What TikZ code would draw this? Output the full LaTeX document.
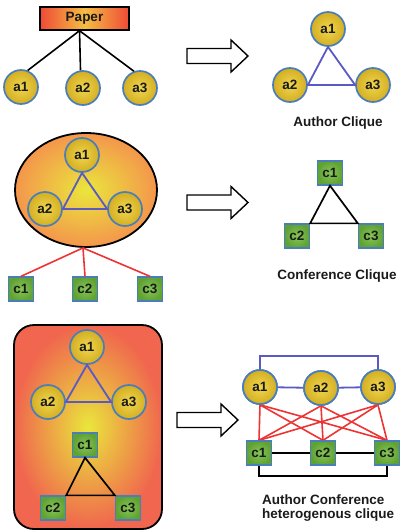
\documentclass[tikz,border=0pt]{standalone}
\usepackage{fontspec}
\setmainfont{Liberation Sans}
\usetikzlibrary{shapes.geometric}

\definecolor{nodeblue}{HTML}{4A7EBB}
\definecolor{cliqueblue}{HTML}{5A5AC4}
\definecolor{linkred}{HTML}{EE3333}
\definecolor{goldin}{HTML}{F0D64E}
\definecolor{goldout}{HTML}{D4AE22}
\definecolor{greenin}{HTML}{86C656}
\definecolor{greenout}{HTML}{5FA233}
\definecolor{warmcore}{HTML}{EAE63C}
\definecolor{orangerim}{HTML}{F4964C}
\definecolor{redrim}{HTML}{F0664E}
\definecolor{papercore}{HTML}{F5BE42}
\definecolor{paperrim}{HTML}{EE4A36}
\definecolor{inktext}{HTML}{1A1A1A}

\begin{document}
\begin{tikzpicture}[x=1pt,y=-1pt,
  lbl/.style={font=\bfseries\fontsize{13.5}{13.5}\selectfont, text=inktext},
  author/.style={lbl, circle, draw=nodeblue, line width=1.7pt,
    minimum size=34pt, inner sep=0pt, shade, inner color=goldin, outer color=goldout},
  conf/.style={lbl, rectangle, draw=nodeblue, line width=1.3pt,
    minimum width=25pt, minimum height=24pt, inner sep=0pt,
    shade, inner color=greenin, outer color=greenout},
  coauth/.style={draw=cliqueblue, line width=1.8pt},
  cofconf/.style={draw=black, line width=1.7pt},
  cross/.style={draw=linkred, line width=1.6pt},
  tree/.style={draw=black, line width=1.6pt},
  caption/.style={lbl, inner sep=0pt},
  fatarrow/.pic={\draw[line width=1.4pt, fill=white, line join=miter]
    (0,-7.5) -- (44,-7.5) -- (44,-16) -- (61,0) -- (44,16) -- (44,7.5) -- (0,7.5) -- cycle;}
]
\useasboundingbox (0,0) rectangle (400,531);

% ---------- paper with its authors ----------
\node[lbl, draw=black, line width=1.4pt, minimum width=89pt, minimum height=23pt,
  inner sep=0pt, left color=paperrim, right color=paperrim, middle color=papercore] (paper) at (84.5,18.5) {Paper};
\node[author] (pa1) at (21,87) {a1};
\node[author] (pa2) at (83,88) {a2};
\node[author] (pa3) at (140,88) {a3};
\draw[tree] ([xshift=-5pt]paper.south) -- (pa1.68);
\draw[tree] ([xshift=-5pt]paper.south) -- (pa2.98);
\draw[tree] ([xshift=-5pt]paper.south) -- (pa3.110);

\pic at (187,56) {fatarrow};

% author clique
\node[author] (ca1) at (328,29) {a1};
\node[author] (ca2) at (290,85) {a2};
\node[author] (ca3) at (373,85) {a3};
\draw[coauth] (ca1.south) -- (ca2.east) -- (ca3.west) -- cycle;
\node[caption, anchor=base] (capauth) at (338,126.5) {Author Clique};

% ---------- authors grouped, linked to conferences ----------
\node[ellipse, draw=black, line width=1.8pt, minimum width=142pt, minimum height=114pt,
  shade, inner color=warmcore, outer color=orangerim] (blob) at (86,190) {};
\node[author] (ma1) at (82,155) {a1};
\node[author] (ma2) at (45,209) {a2};
\node[author] (ma3) at (125,209) {a3};
\draw[coauth] (ma1.south) -- (ma2.east) -- (ma3.west) -- cycle;
\node[conf] (mc1) at (21,289) {c1};
\node[conf] (mc2) at (85,289) {c2};
\node[conf] (mc3) at (150,289) {c3};
\draw[cross] ([xshift=-3pt]blob.south) -- (mc1.north);
\draw[cross] ([xshift=-3pt]blob.south) -- (mc2.north);
\draw[cross] ([xshift=-3pt]blob.south) -- (mc3.north);

\pic at (187,202.5) {fatarrow};

% conference clique
\node[conf] (cc1) at (330,173) {c1};
\node[conf] (cc2) at (297,236) {c2};
\node[conf] (cc3) at (371,236) {c3};
\draw[cofconf] (cc1.south) -- (cc2.north east) -- (cc3.north west) -- cycle;
\node[caption, anchor=base] (capconf) at (337,279.5) {Conference Clique};

% ---------- authors and conferences together ----------
\node[draw=black, line width=1.8pt, rounded corners=20pt, minimum width=148pt,
  minimum height=204pt, shade, inner color=warmcore, outer color=redrim] (panel) at (88,427) {};
\node[author] (ba1) at (87,347) {a1};
\node[author] (ba2) at (48,402) {a2};
\node[author] (ba3) at (129,402) {a3};
\draw[coauth] (ba1.south) -- (ba2.east) -- (ba3.west) -- cycle;
\node[conf] (bc1) at (85,445) {c1};
\node[conf] (bc2) at (53,508) {c2};
\node[conf] (bc3) at (128,508) {c3};
\draw[cofconf] (bc1.south) -- (bc2.north east) -- (bc3.north west) -- cycle;

\pic at (177,420) {fatarrow};

% heterogeneous clique
\node[author] (ra1) at (260,387) {a1};
\node[author] (ra2) at (321,388) {a2};
\node[author] (ra3) at (378,387) {a3};
\node[conf] (rc1) at (259,453) {c1};
\node[conf] (rc2) at (323,453) {c2};
\node[conf] (rc3) at (387,453) {c3};
\draw[coauth] (ra1.north) -- ++(0,-13) -| (ra3.north);
\draw[coauth] (ra1) -- (ra2) -- (ra3);
\draw[cofconf] (rc1) -- (rc2) -- (rc3);
\draw[cofconf] (rc1.south) -- ++(0,10) -| (rc3.south);
\foreach \a in {ra1,ra2,ra3}
  \foreach \c in {rc1,rc2,rc3}
    \draw[cross] (\a.south) -- (\c.north);
% redraw the nodes above the edges
\node[author] at (ra1) {a1};
\node[author] at (ra2) {a2};
\node[author] at (ra3) {a3};
\node[conf] at (rc1) {c1};
\node[conf] at (rc2) {c2};
\node[conf] at (rc3) {c3};
\node[caption, anchor=north west, align=left] (caphet) at (262,495)
  {Author Conference\\heterogenous clique};
\end{tikzpicture}
\end{document}
